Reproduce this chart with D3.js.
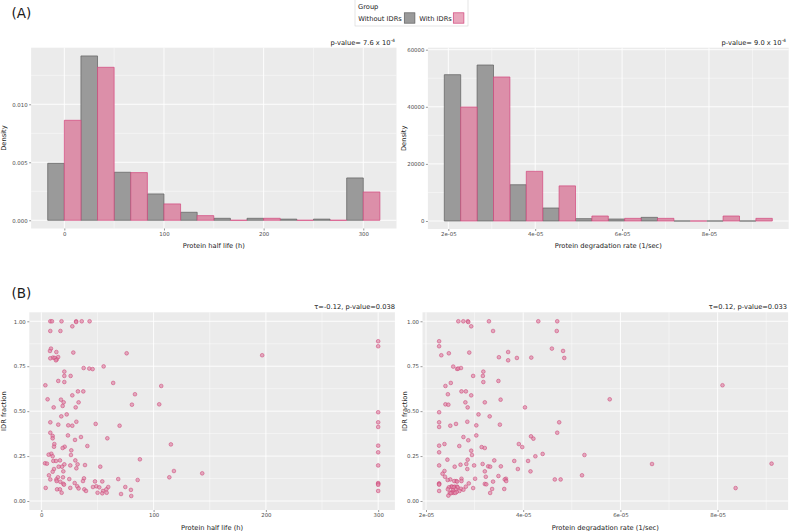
<!DOCTYPE html>
<html>
<head>
<meta charset="utf-8">
<script src="https://cdn.jsdelivr.net/npm/d3@7"></script>
<style>
  body { margin: 0; background: #fff; }
  svg { display: block; font-family: "DejaVu Sans", sans-serif; }
</style>
</head>
<body>
<svg id="chart" width="789" height="531"></svg>
<script>
// histogram bins (centres) and densities
var halfLifeBins = [0, 33.33, 66.67, 100, 133.33, 166.67, 200, 233.33, 266.67, 300];
var halfLifeBinWidth = 33.33;
var halfLifeWithout = [0.00491, 0.01417, 0.00414, 0.00227, 0.00069, 0.00017, 0.00017, 0.0001, 0.0001, 0.00365];
var halfLifeWith = [0.00862, 0.01319, 0.00411, 0.00141, 0.0004, 0, 0.00017, 0, 0, 0.00244];

// degradation rate in units of 1e-05 / sec
var degRateBins = [2.285, 3.04, 3.795, 4.55, 5.305, 6.06, 6.815, 7.57, 8.325, 9.08];
var degRateBinWidth = 0.755;
var degRateWithout = [51250, 54640, 12700, 4550, 820, 700, 1280, 0, 0, 0];
var degRateWith = [39930, 50440, 17400, 12300, 1750, 930, 930, 0, 1750, 930];

// scatter: [protein half life (h), IDR fraction]
var halfLifePoints = [
  [8,1.0],[9.5,1.0],[18,1.0],[31,1.0],[31,0.996],[36,1.0],[43,1.0],
  [27.6,0.972],[8,0.946],[17,0.946],[300,0.889],[300,0.861],
  [8.6,0.848],[7.7,0.835],[13.4,0.829],[28.5,0.826],[76,0.822],[196.7,0.811],
  [15,0.801],[10.4,0.798],[11.9,0.796],[8,0.794],[13.7,0.788],[13,0.783],
  [37.7,0.74],[42.7,0.737],[45.7,0.734],[55.5,0.749],
  [20.5,0.72],[20.5,0.696],[26.1,0.696],[15.1,0.668],[20.5,0.662],[64,0.657],
  [3.6,0.644],[106.8,0.64],[32.6,0.61],[37.4,0.61],[83.4,0.594],[27.6,0.588],
  [5.6,0.566],[17.5,0.564],[19.9,0.549],[33.2,0.549],[80.7,0.536],[105,0.538],
  [19,0.529],[11,0.521],[30.6,0.521],[22.6,0.482],[17.8,0.471],
  [300,0.494],[300,0.438],[300,0.412],
  [8,0.438],[31.2,0.441],[48.4,0.429],[15.1,0.425],[24,0.421],[27.6,0.419],[69.7,0.419],
  [8,0.38],[23.7,0.365],[10.1,0.362],[35.3,0.356],[58.8,0.349],[10.1,0.349],[30,0.34],
  [11.6,0.317],[115.4,0.315],[41,0.306],[300,0.308],[20.8,0.302],[11.3,0.302],[19,0.295],
  [26.7,0.282],[300,0.271],[8.9,0.263],[6.5,0.258],[26.4,0.256],[10.1,0.249],
  [87.8,0.232],[16.6,0.226],[30.3,0.226],[10.7,0.223],[13.1,0.223],
  [3.3,0.21],[5,0.208],[32.3,0.204],[20.5,0.204],[25.8,0.198],[38.9,0.2],[300,0.198],
  [18.4,0.191],[52.5,0.191],[15.4,0.191],[31.2,0.182],[11.3,0.178],
  [118.1,0.167],[19.6,0.165],[10.1,0.163],[143.3,0.154],[6.8,0.143],
  [114,0.132],[14.8,0.132],[19.3,0.132],[68.5,0.122],[24.9,0.122],[38,0.126],[8,0.12],[13.4,0.12],
  [85.8,0.117],[13.6,0.111],[37.1,0.111],[47.8,0.109],[54.3,0.109],[16.9,0.107],
  [29.7,0.1],[300,0.1],[19.6,0.096],[300,0.096],[20.2,0.091],[300,0.09],
  [32,0.082],[49,0.082],[74.8,0.078],[46,0.078],[59.6,0.078],[51.6,0.076],
  [3.9,0.073],[25.8,0.073],[33.2,0.07],
  [14,0.065],[16.6,0.065],[38.3,0.065],[57.9,0.065],[79.8,0.062],
  [39.8,0.056],[54.9,0.056],[300,0.056],
  [18.1,0.046],[50.1,0.046],[58.2,0.046],[54.3,0.043],[71,0.039],[80.1,0.028]
];

// scatter: [degradation rate (1e-05 / sec), IDR fraction]
var degRatePoints = [
  [2.665,1.0],[2.768,1.0],[2.86,1.0],[2.87,0.996],[3.295,1.0],[4.31,1.0],[4.70,1.0],
  [2.93,0.972],[3.38,0.946],[4.69,0.946],
  [2.27,0.889],[2.27,0.861],[4.59,0.848],[4.82,0.835],[3.69,0.829],[2.47,0.822],[2.89,0.826],[2.315,0.811],
  [3.5,0.80],[4.166,0.798],[3.87,0.796],[4.845,0.796],[3.69,0.783],
  [2.56,0.748],[2.64,0.735],[2.665,0.737],[2.72,0.74],[3.18,0.72],[2.97,0.696],[3.17,0.696],
  [3.49,0.668],[3.18,0.662],[2.51,0.657],[2.4,0.64],[8.1,0.644],[2.73,0.61],[2.82,0.61],
  [2.45,0.594],[2.93,0.588],[3.535,0.564],[5.78,0.566],[2.81,0.549],[3.21,0.549],
  [2.4,0.538],[2.46,0.536],[2.857,0.521],[4.036,0.521],[2.27,0.494],[3.08,0.482],[3.31,0.471],
  [2.85,0.441],[2.27,0.438],[4.74,0.438],[3.52,0.425],[3.035,0.421],[2.617,0.429],[2.5,0.419],[2.27,0.412],
  [4.70,0.38],[3.035,0.365],[4.16,0.36],[2.77,0.356],[4.21,0.347],[2.87,0.338],
  [2.38,0.317],[3.91,0.317],[2.27,0.308],[2.685,0.306],[3.145,0.30],[3.98,0.30],[3.21,0.295],
  [2.93,0.28],[2.27,0.271],[4.4,0.262],[5.26,0.256],[2.946,0.256],[4.25,0.249],
  [2.44,0.23],[2.857,0.23],[3.405,0.226],[3.816,0.223],[4.1,0.223],
  [6.65,0.206],[9.11,0.208],[2.83,0.206],[3.165,0.206],[2.71,0.202],[2.27,0.198],[2.99,0.198],
  [3.28,0.193],[3.32,0.191],[3.54,0.193],[2.59,0.191],[2.85,0.178],[3.89,0.178],
  [4.15,0.165],[3.21,0.165],[2.38,0.167],[2.34,0.152],[5.21,0.143],[3.49,0.139],[2.39,0.135],[3.23,0.135],
  [2.73,0.124],[3.01,0.124],[3.645,0.124],[2.5,0.12],[4.65,0.12],[4.77,0.12],[3.62,0.12],
  [2.445,0.117],[2.73,0.111],[2.62,0.111],[2.58,0.111],[3.38,0.108],[3.65,0.111],[2.64,0.108],
  [2.27,0.098],[2.88,0.098],[2.27,0.095],[3.21,0.095],[3.24,0.093],[2.27,0.091],
  [2.52,0.08],[2.535,0.08],[2.59,0.08],[2.64,0.08],[2.82,0.08],[2.47,0.076],[2.65,0.076],[2.57,0.076],
  [2.97,0.072],[2.72,0.068],[2.45,0.065],[2.61,0.065],[3.36,0.067],[3.61,0.067],[2.77,0.063],[2.555,0.059],
  [2.27,0.056],[2.69,0.056],[2.535,0.05],[2.63,0.05],[2.56,0.045],[2.6,0.045],[2.49,0.045],[3.32,0.045],
  [2.51,0.043],[2.46,0.03],[8.37,0.072]
];

// tick labels
var halfLifeTicks = [0, 100, 200, 300];
var degRateTicks = [2, 4, 6, 8];
var degRateTickLabels = ['2e-05', '4e-05', '6e-05', '8e-05'];
var densityTicksA = [0, 0.005, 0.010];
var densityTicksB = [0, 20000, 40000, 60000];
var idrTicks = [0, 0.25, 0.5, 0.75, 1];

var groups = ['Without IDRs', 'With IDRs'];
var colors = {
  grayFill: '#9a9a9a', grayLine: '#5e5e5e',
  pinkFill: '#dc8fa9', pinkLine: '#d2467c',
  keyPink: '#e8a6bc'
};

var svg = d3.select('#chart');
var TITLE_SIZE = 6.7;
var TICK_SIZE = 5.4;

// generic ggplot-like panel: background, grid, axes
function DrawPanel(p){
  var g = svg.append('g');
  var x = d3.scaleLinear().domain(p.xDomain).range(p.xRange);
  var y = d3.scaleLinear().domain(p.yDomain).range(p.yRange);

  g.append('rect')
    .attr('x', p.xRange[0]).attr('y', p.yRange[1])
    .attr('width', p.xRange[1] - p.xRange[0])
    .attr('height', p.yRange[0] - p.yRange[1])
    .attr('fill', '#ebebeb');

  // minor grid
  g.selectAll('.minx').data(p.xMinor).enter().append('line')
    .attr('x1', d => x(d)).attr('x2', d => x(d))
    .attr('y1', p.yRange[0]).attr('y2', p.yRange[1])
    .attr('stroke', '#fff').attr('stroke-width', 0.45);
  g.selectAll('.miny').data(p.yMinor).enter().append('line')
    .attr('y1', d => y(d)).attr('y2', d => y(d))
    .attr('x1', p.xRange[0]).attr('x2', p.xRange[1])
    .attr('stroke', '#fff').attr('stroke-width', 0.45);
  // major grid
  g.selectAll('.majx').data(p.xTicks).enter().append('line')
    .attr('x1', d => x(d)).attr('x2', d => x(d))
    .attr('y1', p.yRange[0]).attr('y2', p.yRange[1])
    .attr('stroke', '#fff').attr('stroke-width', 0.9);
  g.selectAll('.majy').data(p.yTicks).enter().append('line')
    .attr('y1', d => y(d)).attr('y2', d => y(d))
    .attr('x1', p.xRange[0]).attr('x2', p.xRange[1])
    .attr('stroke', '#fff').attr('stroke-width', 0.9);

  // axes
  var xAxis = d3.axisBottom(x).tickValues(p.xTicks).tickSize(2).tickPadding(1.5)
    .tickFormat(p.xFormat || d3.format('d'));
  var yAxis = d3.axisLeft(y).tickValues(p.yTicks).tickSize(2).tickPadding(1.5)
    .tickFormat(p.yFormat);
  var ax = g.append('g').attr('transform', 'translate(0,' + p.yRange[0] + ')').call(xAxis);
  var ay = g.append('g').attr('transform', 'translate(' + p.xRange[0] + ',0)').call(yAxis);
  [ax, ay].forEach(function(a){
    a.select('.domain').remove();
    a.selectAll('line').attr('stroke', '#333').attr('stroke-width', 0.5);
    a.selectAll('text').attr('fill', '#4d4d4d').attr('font-size', TICK_SIZE)
      .attr('font-family', '"DejaVu Sans", sans-serif');
  });

  // axis titles
  g.append('text')
    .attr('x', (p.xRange[0] + p.xRange[1]) / 2).attr('y', p.xTitleY)
    .attr('text-anchor', 'middle').attr('font-size', TITLE_SIZE).attr('fill', '#1a1a1a')
    .text(p.xTitle);
  g.append('text')
    .attr('transform', 'translate(' + p.yTitleX + ',' + ((p.yRange[0] + p.yRange[1]) / 2) + ') rotate(-90)')
    .attr('text-anchor', 'middle').attr('font-size', TITLE_SIZE).attr('fill', '#1a1a1a')
    .text(p.yTitle);

  return {g: g, x: x, y: y};
}

// dodged histogram bars (gray left of the bin centre, pink right)
function DrawBars(panel, centers, width, without, withIdr, scale){
  var s = scale || 1;
  function barPath(x0, x1, v){
    var y0 = panel.y(0), y1 = panel.y(v);
    return 'M' + x0 + ',' + y0 + 'V' + y1 + 'H' + x1 + 'V' + y0 + 'Z';
  }
  panel.g.selectAll('.gbar').data(centers).enter().append('path')
    .attr('d', (c, i) => barPath(panel.x((c - width / 2) * s), panel.x(c * s), without[i]))
    .attr('fill', colors.grayFill).attr('stroke', colors.grayLine).attr('stroke-width', 0.7);
  panel.g.selectAll('.pbar').data(centers).enter().append('path')
    .attr('d', (c, i) => barPath(panel.x(c * s), panel.x((c + width / 2) * s), withIdr[i]))
    .attr('fill', colors.pinkFill).attr('stroke', colors.pinkLine).attr('stroke-width', 0.7);
}

function DrawPoints(panel, pts, scale){
  var s = scale || 1;
  panel.g.selectAll('.pt').data(pts).enter().append('circle')
    .attr('cx', d => panel.x(d[0] * s)).attr('cy', d => panel.y(d[1]))
    .attr('r', 1.85)
    .attr('fill', '#e08aaa').attr('fill-opacity', 0.7)
    .attr('stroke', '#cc3f72').attr('stroke-opacity', 0.85).attr('stroke-width', 0.6);
}

function DrawTitle(xRight, yBase, main, sup){
  var t = svg.append('text')
    .attr('x', xRight).attr('y', yBase)
    .attr('text-anchor', 'end').attr('font-size', TITLE_SIZE).attr('fill', '#1a1a1a');
  t.append('tspan').text(main);
  if(sup){
    t.append('tspan').attr('font-size', 4.6).attr('dy', -3).text(sup);
  }
}

var E5 = 1e-5;
var e5Format = function(d){ return degRateTickLabels[degRateTicks.indexOf(Math.round(d / E5))]; };

// (A) left: protein half life histogram
var pA1 = DrawPanel({
  xDomain: [-33.33, 333.33], xRange: [31.1, 396.5],
  yDomain: [-0.000709, 0.014879], yRange: [228.5, 47.7],
  xTicks: halfLifeTicks, xMinor: [50, 150, 250],
  yTicks: densityTicksA, yMinor: [0.0025, 0.0075, 0.0125],
  yFormat: d3.format('.3f'),
  xTitle: 'Protein half life (h)', xTitleY: 248,
  yTitle: 'Density', yTitleX: 6
});
DrawBars(pA1, halfLifeBins, halfLifeBinWidth, halfLifeWithout, halfLifeWith);

// (A) right: degradation rate histogram
var pA2 = DrawPanel({
  xDomain: [1.53 * E5, 9.835 * E5], xRange: [427.9, 788.7],
  yDomain: [-2800, 60700], yRange: [229, 47.7],
  xTicks: degRateTicks.map(d => d * E5), xMinor: [3 * E5, 5 * E5, 7 * E5, 9 * E5],
  xFormat: e5Format,
  yTicks: densityTicksB, yMinor: [10000, 30000, 50000],
  yFormat: d3.format('d'),
  xTitle: 'Protein degradation rate (1/sec)', xTitleY: 248,
  yTitle: 'Density', yTitleX: 405.5
});
DrawBars(pA2, degRateBins, degRateBinWidth, degRateWithout, degRateWith, E5);

// (B) left: IDR fraction vs half life
var pB1 = DrawPanel({
  xDomain: [-10.7, 314.9], xRange: [29.3, 394.9],
  yDomain: [-0.05, 1.05], yRange: [510, 312.3],
  xTicks: halfLifeTicks, xMinor: [50, 150, 250],
  yTicks: idrTicks, yMinor: [0.125, 0.375, 0.625, 0.875],
  yFormat: d3.format('.2f'),
  xTitle: 'Protein half life (h)', xTitleY: 529.5,
  yTitle: 'IDR fraction', yTitleX: 6.3
});
DrawPoints(pB1, halfLifePoints);

// (B) right: IDR fraction vs degradation rate
var pB2 = DrawPanel({
  xDomain: [1.928 * E5, 9.45 * E5], xRange: [422.5, 788.1],
  yDomain: [-0.05, 1.05], yRange: [510, 312.3],
  xTicks: degRateTicks.map(d => d * E5), xMinor: [3 * E5, 5 * E5, 7 * E5, 9 * E5],
  xFormat: e5Format,
  yTicks: idrTicks, yMinor: [0.125, 0.375, 0.625, 0.875],
  yFormat: d3.format('.2f'),
  xTitle: 'Protein degradation rate (1/sec)', xTitleY: 529.5,
  yTitle: 'IDR fraction', yTitleX: 406.5
});
DrawPoints(pB2, degRatePoints, E5);

// panel titles
DrawTitle(395, 45, 'p-value= 7.6 x 10', '-4');
DrawTitle(786, 45, 'p-value= 9.0 x 10', '-4');
DrawTitle(395, 309, '\u03c4=-0.12, p-value=0.038');
DrawTitle(787, 309, '\u03c4=0.12, p-value=0.033');

// tags
svg.append('text').attr('x', 11.5).attr('y', 17.5).attr('font-size', 13.5).attr('fill', '#1a1a1a').text('(A)');
svg.append('text').attr('x', 11.5).attr('y', 297.5).attr('font-size', 13.5).attr('fill', '#1a1a1a').text('(B)');

// legend
var legend = svg.append('g');
legend.append('rect').attr('x', 355).attr('y', -1).attr('width', 113).attr('height', 27)
  .attr('fill', '#fff').attr('stroke', '#d4d4d4').attr('stroke-width', 0.6);
legend.append('text').attr('x', 358).attr('y', 9).attr('font-size', TITLE_SIZE).attr('fill', '#1a1a1a').text('Group');
var keyX = [358.3, 419.3], boxX = [404.3, 453.3];
var keyFill = [colors.grayFill, colors.keyPink], keyLine = [colors.grayLine, colors.pinkLine];
legend.selectAll('.lt').data(groups).enter().append('text')
  .attr('x', (d, i) => keyX[i]).attr('y', 20.5)
  .attr('font-size', TITLE_SIZE).attr('fill', '#1a1a1a').text(d => d);
legend.selectAll('.lk').data(groups).enter().append('rect')
  .attr('x', (d, i) => boxX[i]).attr('y', 12.8).attr('width', 10.6).attr('height', 10.4)
  .attr('fill', (d, i) => keyFill[i]).attr('stroke', (d, i) => keyLine[i]).attr('stroke-width', 0.7);
</script>
</body>
</html>
